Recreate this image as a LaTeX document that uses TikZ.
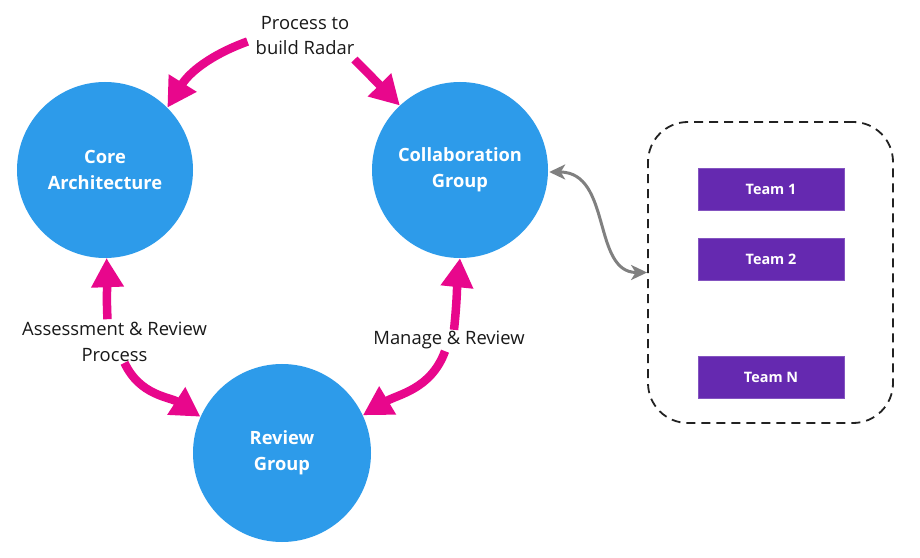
\documentclass[tikz,border=0pt]{standalone}
\usepackage{fontspec}
\setmainfont{Open Sans}
\usetikzlibrary{arrows.meta}
\definecolor{circblue}{HTML}{2D9BEA}
\definecolor{pinkarr}{HTML}{E8078C}
\definecolor{teampurple}{HTML}{6529B0}
\definecolor{grayarr}{HTML}{808080}
\definecolor{dashcol}{HTML}{222222}
\tikzset{
  bigcirc/.style={circle, fill=circblue, minimum size=176pt, inner sep=0pt, text=white,
    font=\fontsize{18.3}{26}\selectfont\bfseries, align=center},
  teambox/.style={rectangle, fill=teampurple, draw=teampurple!80!white, line width=0.8pt,
    minimum width=146pt, minimum height=42pt, text=white, font=\fontsize{14.4}{16}\selectfont\bfseries},
  lbl/.style={font=\fontsize{18.4}{25.5}\selectfont, align=center, text=black!90, inner sep=2pt},
  pinkarrow/.style={draw=pinkarr, line width=8.5pt,
    -{Triangle[length=29pt,width=31pt]}},
  grayarrow/.style={draw=grayarr, line width=3pt,
    {Stealth[length=16pt,width=15pt,inset=4.5pt]}-{Stealth[length=16pt,width=15pt,inset=4.5pt]}},
  groupbox/.style={draw=dashcol, line width=1.8pt, dash pattern=on 9pt off 6pt,
    rounded corners=40pt, minimum width=245pt, minimum height=301pt}
}
\begin{document}
\begin{tikzpicture}[x=1pt,y=1pt]
\useasboundingbox (0,0) rectangle (920,557);
\fill[white] (0,0) rectangle (920,557);

% circles
\node[bigcirc] (core) at (105,387) {Core\\Architecture};
\node[bigcirc] (collab) at (460,387) {Collaboration\\Group};
\node[bigcirc, minimum size=178pt] (review) at (282,104) {Review\\Group};

% group box and teams
\node[groupbox] (group) at (770.5,284.5) {};
\node[teambox] (t1) at (771,368) {Team 1};
\node[teambox] (t2) at (771,298) {Team 2};
\node[teambox] (tn) at (771,180) {Team N};

% labels
\node[lbl] (lblT) at (305,521.5) {Process to\\build Radar};
\node[lbl] (lblL) at (114.5,215) {Assessment \& Review\\Process};
\node[lbl] (lblR) at (449,217) {Manage \& Review};

% pink arrows
\draw[pinkarrow] ([xshift=-6pt,yshift=-6pt]lblT.west) to[out=200,in=58] (core.45);
\draw[pinkarrow] ([xshift=-2pt,yshift=-24pt]lblT.east) -- (collab.133);
\draw[pinkarrow] ([xshift=-7pt,yshift=1pt]lblL.north) to[out=93,in=-88] (core.-89);
\draw[pinkarrow] ([xshift=10pt,yshift=1pt]lblL.south) to[out=-65,in=147] (review.156);
\draw[pinkarrow] ([xshift=5pt,yshift=-1pt]lblR.north) to[out=84,in=-96] (collab.-90);
\draw[pinkarrow] ([xshift=-4pt]lblR.south) to[out=-110,in=31] (review.25);

% gray connector
\draw[grayarrow] ([xshift=1pt,yshift=-2pt]collab.0) .. controls (612,385) and (592,284.5) .. (group.west);
\end{tikzpicture}
\end{document}
